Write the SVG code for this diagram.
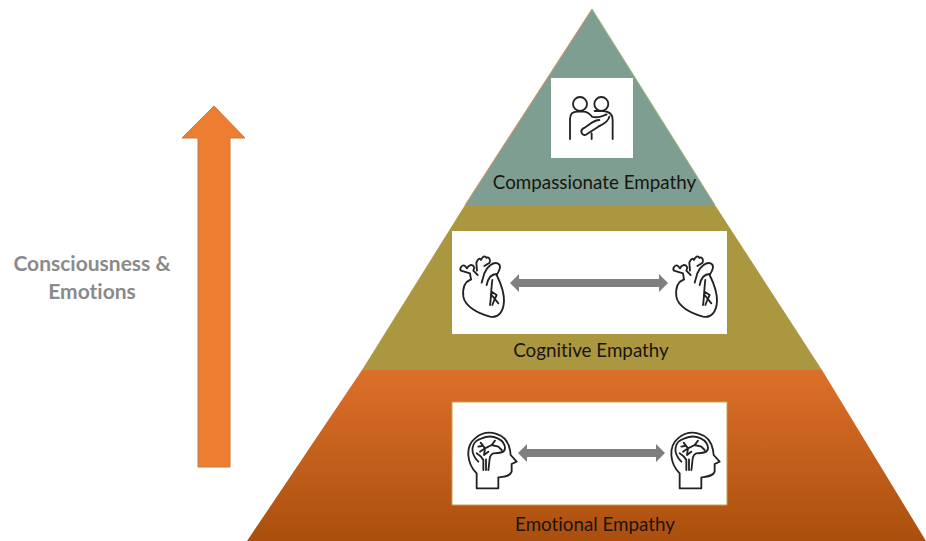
<svg xmlns="http://www.w3.org/2000/svg" width="926" height="541" viewBox="0 0 926 541">
<style>
text{font-family:"Lato","Open Sans","Liberation Sans",sans-serif;text-anchor:middle;font-variant-ligatures:none}
.lab{font-size:18.800px;fill:#1a1410}
.side{font-size:21px;font-weight:700;fill:#8a8a8a}
.card{fill:#fff}
.ic{fill:none;stroke:#222;stroke-width:5.500;stroke-linejoin:round;stroke-linecap:round}
.dbl{fill:#7f7f7f}
</style>
<defs>
<linearGradient id="g" x1="0" y1="0" x2="0" y2="1"><stop offset="0" stop-color="#dc702a"/><stop offset="1" stop-color="#ab4f0e"/></linearGradient>
<g id="heart" transform="scale(.3333)">
<path class="ic" d="M48 88C30 95 22 115 25 140C30 170 70 190 105 200C130 205 145 185 147 155C148 125 135 95 125 75C135 60 140 45 128 40C115 35 95 50 88 70L80 98"/>
<path class="ic" d="M125 72C110 72 100 80 95 105M48 88L45 70L18 62C12 55 22 42 30 48L36 55C40 45 52 40 58 52L55 62L68 75M66 62L64 38C68 28 75 22 78 30C82 20 90 15 94 24C100 18 108 28 104 38L88 48M112 90C108 120 108 150 105 165M110 125L125 135L118 150M110 135L130 160M118 150L112 165"/>
</g>
<g id="head" transform="scale(.3333)">
<path class="ic" d="M50 205V160C20 130 15 80 45 55C80 25 140 35 150 90L152 105L170 125L155 132V155C150 170 130 170 115 172V205Z"/>
<path class="ic" d="M55 125C30 100 30 65 65 55C100 40 135 60 135 85C135 100 115 100 100 100C85 105 90 125 85 150M70 150V120C65 110 58 105 50 100M62 68L75 85L60 95M75 85L95 75L105 62M95 75L115 80L125 90M75 85L72 105L85 95M55 80L65 78M78 150V118"/>
</g>
</defs>
<g id="consciousness-arrow">
<path d="M214 106L245 138H230V467H198V138H182Z" fill="#ed7d31" stroke="#c57a45"/>
<text class="side" x="92" y="271">Consciousness &amp;</text>
<text class="side" x="92" y="299">Emotions</text>
</g>
<g id="compassionate-empathy">
<path d="M592 9L465 205H715Z" fill="#7f9e92"/>
<path d="M592 9L465 205" fill="none" stroke="#d9925f" stroke-width="1"/>
<path d="M592 9L715 205" fill="none" stroke="#a3b77c" stroke-width="1"/>
<rect class="card" x="551" y="78" width="82" height="80"/>
<g transform="translate(560 85) scale(.3333)">
<circle class="ic" cx="60" cy="57" r="21"/><circle class="ic" cx="124" cy="57" r="21"/>
<path class="ic" d="M30 162V102Q30 80 52 80H70Q84 80 96 95C110 100 125 95 140 88M104 78H130Q158 80 158 105V162M118 105C100 105 85 122 70 130C58 138 66 155 80 148L115 125C128 118 145 112 148 95M95 145V162"/>
</g>
<text class="lab" x="594.500" y="188.500">Compassionate Empathy</text>
</g>
<g id="cognitive-empathy">
<path d="M465 205H715L822 370H362Z" fill="#ab9740"/>
<rect class="card" x="452" y="231" width="275" height="103"/>
<use href="#heart" x="455" y="250"/>
<use href="#heart" x="668" y="250"/>
<text class="lab" x="591" y="357">Cognitive Empathy</text>
</g>
<g id="emotional-empathy">
<path d="M362 370H822L926 541H247Z" fill="url(#g)"/>
<rect class="card" x="452" y="402" width="275" height="103" stroke="#bfa34c" stroke-width="1"/>
<use href="#head" x="460" y="420"/>
<use href="#head" x="663" y="420"/>
<text class="lab" x="595" y="531">Emotional Empathy</text>
</g>
<g id="connectors">
<path class="dbl" d="M510 283l9-9v5h140v-5l9 9-9 9v-5h-140v5z"/>
<path class="dbl" d="M518 453l9-9v5h129v-5l9 9-9 9v-5h-129v5z"/>
</g>
</svg>
